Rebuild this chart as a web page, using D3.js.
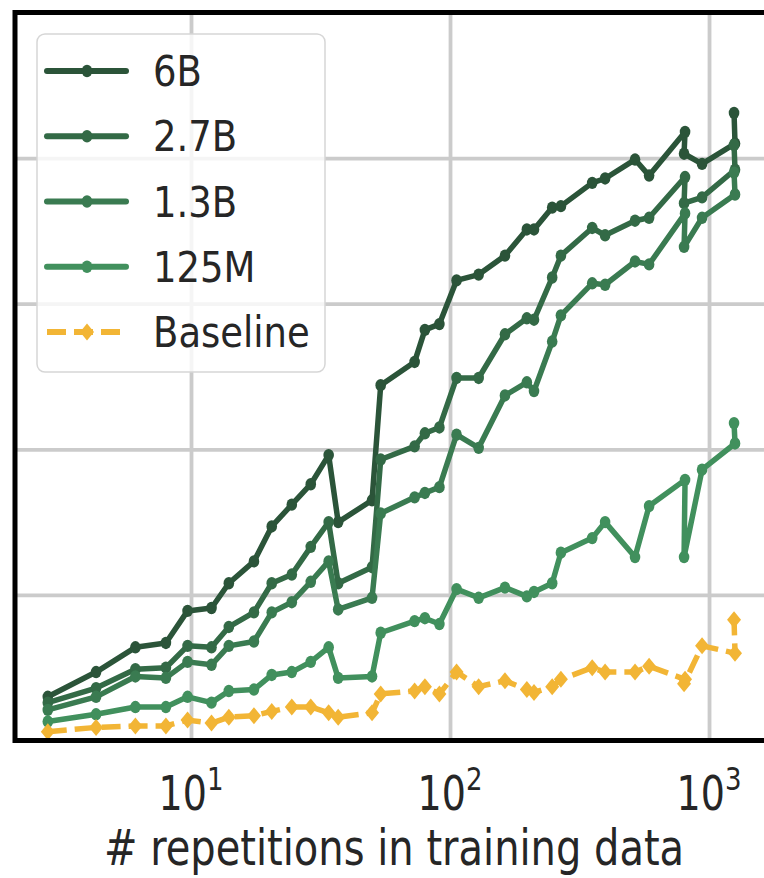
<!DOCTYPE html>
<html><head><meta charset="utf-8">
<script src="https://cdn.jsdelivr.net/npm/d3@7"></script>
<style>
body{margin:0;background:#fff;overflow:hidden}
svg{display:block}
text{font-family:"DejaVu Sans",sans-serif;fill:#262626}
</style>
</head><body><div id="chart"></div>
<script>
// ---- data ----
const repetitions = [2.8, 4.3, 6.1, 8.0, 9.7, 12, 14, 17.5, 20.5, 24.5, 29, 34, 37, 50, 54, 73, 80, 91, 106, 129, 163, 198, 211, 248, 268, 354, 397, 518, 587, 808, 801, 940, 1260, 1249];
const series6B   = [3.0, 4.7, 6.4, 6.7, 8.9, 9.1, 10.8, 12.3, 14.7, 16.2, 17.6, 19.6, 15.0, 16.5, 24.4, 26.0, 28.2, 28.6, 31.6, 32.0, 33.3, 35.1, 35.1, 36.6, 36.7, 38.3, 38.6, 39.9, 38.8, 41.8, 40.3, 39.6, 41.0, 43.1];
const series2_7B = [2.6, 3.6, 4.9, 5.0, 6.5, 6.4, 7.8, 8.8, 10.8, 11.4, 13.3, 15.0, 10.8, 11.9, 19.3, 20.2, 21.1, 21.5, 24.9, 24.9, 27.9, 29.0, 28.9, 31.8, 33.3, 35.2, 34.7, 35.7, 35.9, 38.7, 36.9, 37.3, 39.2, 40.9];
const series1_3B = [2.1, 3.0, 4.4, 4.3, 5.4, 5.2, 6.5, 6.8, 8.8, 9.5, 10.9, 12.3, 9.0, 9.8, 15.6, 16.7, 17.0, 17.4, 21.0, 20.1, 23.7, 24.6, 24.0, 27.4, 29.2, 31.4, 31.3, 32.9, 32.7, 36.2, 33.9, 35.9, 37.5, 39.0];
const series125M = [1.3, 1.8, 2.3, 2.3, 3.0, 2.6, 3.4, 3.5, 4.5, 4.7, 5.4, 6.4, 4.3, 4.4, 7.4, 8.2, 8.4, 8.0, 10.4, 9.8, 10.5, 9.9, 10.2, 10.8, 12.9, 13.9, 15.0, 12.6, 16.1, 17.9, 12.6, 18.6, 20.4, 21.8];
const seriesBase = [0.6, 0.9, 1.0, 1.0, 1.4, 1.2, 1.6, 1.7, 2.0, 2.3, 2.3, 1.9, 1.6, 1.9, 3.2, 3.4, 3.7, 3.2, 4.7, 3.7, 4.1, 3.5, 3.3, 3.7, 4.2, 5.0, 4.7, 4.7, 5.1, 4.2, 3.9, 6.5, 6.0, 8.3];
const seriesNames = ["6B", "2.7B", "1.3B", "125M", "Baseline"];
const seriesColors = ["#2b5439", "#336a46", "#3a7b51", "#41905d", "#f2b535"];
const xTickValues = [10, 100, 1000];
const xTickBase = "10";
const xTickExponents = ["1", "2", "3"];
const yGridValues = [10, 20, 30, 40];
const xLabel = "# repetitions in training data";

const allSeries = [series6B, series2_7B, series1_3B, series125M, seriesBase];

// ---- layout ----
const W = 764, H = 878;
const pLeft = 15, pRight = 773, pTop = 12.5, pBottom = 740.5;
const SY = 1.25; // vertical stretch of the reference image text
const LW = 5.5;

const svg = d3.select("#chart").append("svg").attr("width", W).attr("height", H);

const x = d3.scaleLog().domain([Math.pow(10, 0.3205), Math.pow(10, 3.247)]).range([pLeft, pRight]);
const y = d3.scaleLinear().domain([0, 50]).range([pBottom, pTop]);

// grid
const gx = svg.append("g").attr("transform", `translate(0,${pBottom})`)
  .call(d3.axisBottom(x).tickValues(xTickValues).tickSize(-(pBottom - pTop)).tickFormat(""));
const gy = svg.append("g").attr("transform", `translate(${pLeft},0)`)
  .call(d3.axisLeft(y).tickValues(yGridValues).tickSize(-(pRight - pLeft)).tickFormat(""));
[gx, gy].forEach(g => {
  g.select(".domain").remove();
  g.selectAll(".tick line").attr("stroke", "#cbcbcb").attr("stroke-width", 3.8);
});

// clip
svg.append("clipPath").attr("id", "plotclip").append("rect")
  .attr("x", pLeft).attr("y", pTop).attr("width", pRight - pLeft).attr("height", pBottom - pTop);

const plot = svg.append("g").attr("clip-path", "url(#plotclip)");
const lineGen = d3.line().x(d => x(d[0])).y(d => y(d[1]));

function diamondPath(h, w) { return `M0,${-h}L${w},0L0,${h}L${-w},0Z`; }

allSeries.forEach((vals, i) => {
  const pts = repetitions.map((r, j) => [r, vals[j]]);
  const isBase = i === 4;
  const g = plot.append("g");
  g.append("path").datum(pts).attr("d", lineGen)
    .attr("fill", "none").attr("stroke", seriesColors[i]).attr("stroke-width", LW)
    .attr("stroke-linejoin", "round")
    .attr("stroke-dasharray", isBase ? "19,8" : null);
  if (isBase) {
    g.selectAll("path.m").data(pts).enter().append("path").attr("class", "m")
      .attr("d", diamondPath(8.5, 7))
      .attr("transform", d => `translate(${x(d[0])},${y(d[1])})`)
      .attr("fill", seriesColors[i]);
  } else {
    g.selectAll("ellipse").data(pts).enter().append("ellipse")
      .attr("cx", d => x(d[0])).attr("cy", d => y(d[1]))
      .attr("rx", 5.3).attr("ry", 6.2).attr("fill", seriesColors[i]);
  }
});

// frame (right side beyond the crop)
svg.append("path")
  .attr("d", `M${pRight},${pTop}H${pLeft}V${pBottom}H${pRight}`)
  .attr("fill", "none").attr("stroke", "#000").attr("stroke-width", 5);

// tick labels
xTickValues.forEach((v, i) => {
  const t = svg.append("text")
    .attr("transform", `translate(${x(v)},810) scale(1,${SY})`)
    .attr("text-anchor", "middle").attr("font-size", 38);
  t.append("tspan").text(xTickBase);
  t.append("tspan").attr("font-size", 26).attr("dy", -16).text(xTickExponents[i]);
});

// x label
svg.append("text")
  .attr("transform", `translate(${(pLeft + pRight) / 2},865) scale(1,${SY})`)
  .attr("text-anchor", "middle").attr("font-size", 40).text(xLabel);

// legend
const leg = svg.append("g");
leg.append("rect").attr("x", 37).attr("y", 34).attr("width", 288).attr("height", 338)
  .attr("rx", 8).attr("fill", "#fff").attr("fill-opacity", 0.8)
  .attr("stroke", "#d6d6d6").attr("stroke-width", 1.5);
const rowY = d3.scaleLinear().domain([0, 4]).range([71, 332]);
seriesNames.forEach((name, i) => {
  const cy = rowY(i);
  const isBase = i === 4;
  leg.append("line").attr("x1", 47).attr("x2", 126).attr("y1", cy).attr("y2", cy)
    .attr("stroke", seriesColors[i]).attr("stroke-width", LW + 0.5)
    .attr("stroke-linecap", isBase ? "butt" : "round")
    .attr("stroke-dasharray", isBase ? "19,8" : null);
  if (isBase) {
    leg.append("path").attr("d", diamondPath(8.5, 7)).attr("transform", `translate(87,${cy})`).attr("fill", seriesColors[i]);
  } else {
    leg.append("ellipse").attr("cx", 87).attr("cy", cy).attr("rx", 5.3).attr("ry", 6.2).attr("fill", seriesColors[i]);
  }
  leg.append("text").attr("transform", `translate(153,${cy + 15}) scale(1,1.15)`)
    .attr("font-size", 37).text(name);
});
</script>
</body></html>
